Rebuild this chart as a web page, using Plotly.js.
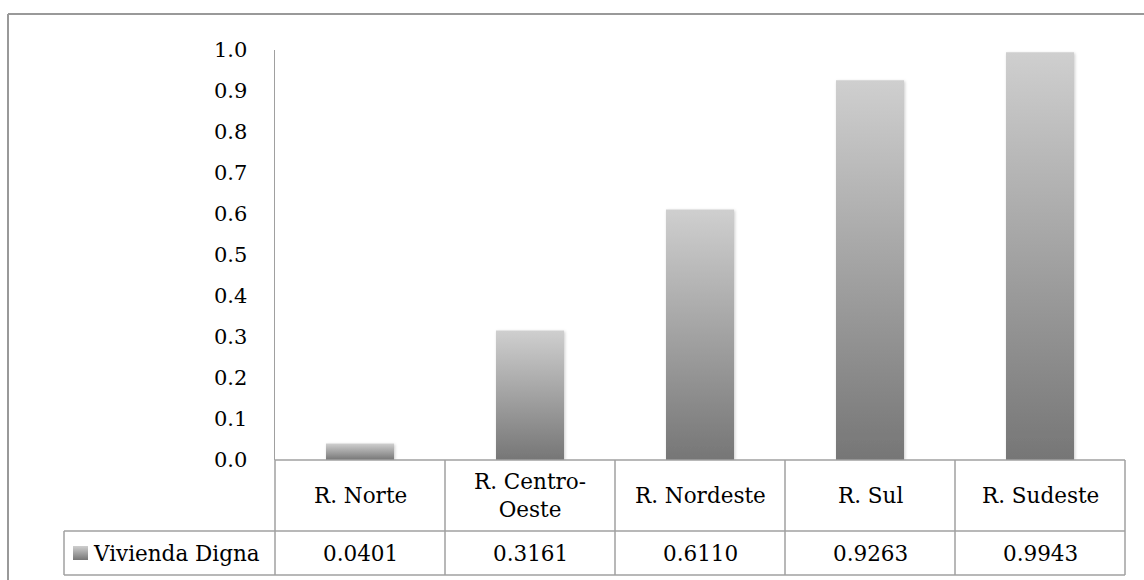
<!DOCTYPE html>
<html>
<head>
<meta charset="utf-8">
<script src="https://cdn.plot.ly/plotly-3.0.1.min.js"></script>
<style>html,body{margin:0;padding:0;background:#fff;}</style>
</head>
<body>
<div id="chart" style="width:1144px;height:580px;"></div>
<script>
// ---- data ----
var categories = ["R. Norte", "R. Centro-Oeste", "R. Nordeste", "R. Sul", "R. Sudeste"];
var categoryLabels = ["R. Norte", "R. Centro-<br>Oeste", "R. Nordeste", "R. Sul", "R. Sudeste"];
var seriesName = "Vivienda Digna";
var values = [0.0401, 0.3161, 0.6110, 0.9263, 0.9943];
var yTicks = [0, 0.1, 0.2, 0.3, 0.4, 0.5, 0.6, 0.7, 0.8, 0.9, 1.0];

// ---- layout constants (pixels) ----
var W = 1144, H = 580;
var L = 275, R = 1125, T = 50, B = 460;
var pw = R - L, ph = B - T;
function px(x) { return (x - L) / pw; }
function py(y) { return (B - y) / ph; }

var FONT = "DejaVu Serif";
var TFS = 21.5, AFS = 21;
var lineCol = "#a0a0a0";
var row1 = 531, row2 = 575, legLeft = 64;

var shapes = [];
function line(x0, y0, x1, y1, col, w) {
  shapes.push({type: "line", xref: "paper", yref: "paper",
    x0: px(x0), y0: py(y0), x1: px(x1), y1: py(y1),
    line: {color: col || lineCol, width: w || 1.5}});
}
// outer frame (left + top)
line(8, 14, 8, 580, "#999", 2);
line(8, 14, 1144, 14, "#999", 2);
// table horizontal lines
line(L, B, R, B);
line(legLeft, row1, R, row1);
line(legLeft, row2, R, row2);
// table vertical lines
var n = categories.length;
for (var i = 0; i <= n; i++) {
  var xx = L + pw * i / n;
  line(xx, B, xx, row2);
}
line(legLeft, row1, legLeft, row2);
// legend key
shapes.push({type: "rect", xref: "paper", yref: "paper",
  x0: px(73), x1: px(88), y0: py(560), y1: py(546),
  fillcolor: "rgb(165,165,165)", line: {width: 0}});

var annotations = [];
for (var j = 0; j < n; j++) {
  annotations.push({xref: "x", yref: "paper", x: categories[j], y: py((B + row1) / 2),
    text: categoryLabels[j], showarrow: false, xanchor: "center", yanchor: "middle",
    font: {family: FONT, size: TFS, color: "#000"}});
  annotations.push({xref: "x", yref: "paper", x: categories[j], y: py((row1 + row2) / 2),
    text: values[j].toFixed(4), showarrow: false, xanchor: "center", yanchor: "middle",
    font: {family: FONT, size: TFS, color: "#000"}});
}
annotations.push({xref: "paper", yref: "paper", x: px(91), y: py((row1 + row2) / 2),
  text: seriesName, showarrow: false, xanchor: "left", yanchor: "middle",
  font: {family: FONT, size: TFS, color: "#000"}});

var trace = {
  type: "bar", x: categories, y: values, name: seriesName,
  width: 0.4, marker: {color: "#a5a5a5", line: {width: 0}},
  hoverinfo: "none"
};

var layout = {
  width: W, height: H,
  margin: {l: L, r: W - R, t: T, b: H - B, pad: 0},
  paper_bgcolor: "#fff", plot_bgcolor: "#fff",
  showlegend: false,
  xaxis: {type: "category", range: [-0.5, n - 0.5], showticklabels: false,
    showline: false, showgrid: false, zeroline: false, ticks: ""},
  yaxis: {range: [0, 1], tickvals: yTicks, tickformat: ".1f", showgrid: false,
    zeroline: false, showline: true, linecolor: lineCol, linewidth: 1.5,
    ticks: "", ticklabelstandoff: 22,
    tickfont: {family: FONT, size: AFS, color: "#000"}},
  shapes: shapes,
  annotations: annotations
};

Plotly.newPlot("chart", [trace], layout, {staticPlot: true, displayModeBar: false}).then(function (gd) {
  var svgNS = "http://www.w3.org/2000/svg";
  var svg = gd.querySelector("svg.main-svg");
  var defs = svg.querySelector("defs") || svg.insertBefore(document.createElementNS(svgNS, "defs"), svg.firstChild);
  var g = document.createElementNS(svgNS, "linearGradient");
  g.setAttribute("id", "barGrad");
  g.setAttribute("x1", "0"); g.setAttribute("y1", "0");
  g.setAttribute("x2", "0"); g.setAttribute("y2", "1");
  [["0", "#cfcfcf"], ["1", "#767676"]].forEach(function (s) {
    var st = document.createElementNS(svgNS, "stop");
    st.setAttribute("offset", s[0]); st.setAttribute("stop-color", s[1]);
    g.appendChild(st);
  });
  defs.appendChild(g);
  var f = document.createElementNS(svgNS, "filter");
  f.setAttribute("id", "barShadow");
  f.setAttribute("x", "-20%"); f.setAttribute("y", "-20%");
  f.setAttribute("width", "140%"); f.setAttribute("height", "140%");
  var ds = document.createElementNS(svgNS, "feDropShadow");
  ds.setAttribute("dx", "1"); ds.setAttribute("dy", "1");
  ds.setAttribute("stdDeviation", "1.5");
  ds.setAttribute("flood-color", "#000"); ds.setAttribute("flood-opacity", "0.2");
  f.appendChild(ds);
  defs.appendChild(f);
  gd.querySelectorAll(".bars .point path").forEach(function (p) {
    p.style.fill = "url(#barGrad)";
    p.setAttribute("filter", "url(#barShadow)");
  });
  gd.querySelectorAll(".shapelayer path").forEach(function (p) {
    if (p.style.fill && p.style.fill.indexOf("165") >= 0) {
      p.style.fill = "url(#barGrad)";
    }
  });
});
</script>
</body>
</html>
